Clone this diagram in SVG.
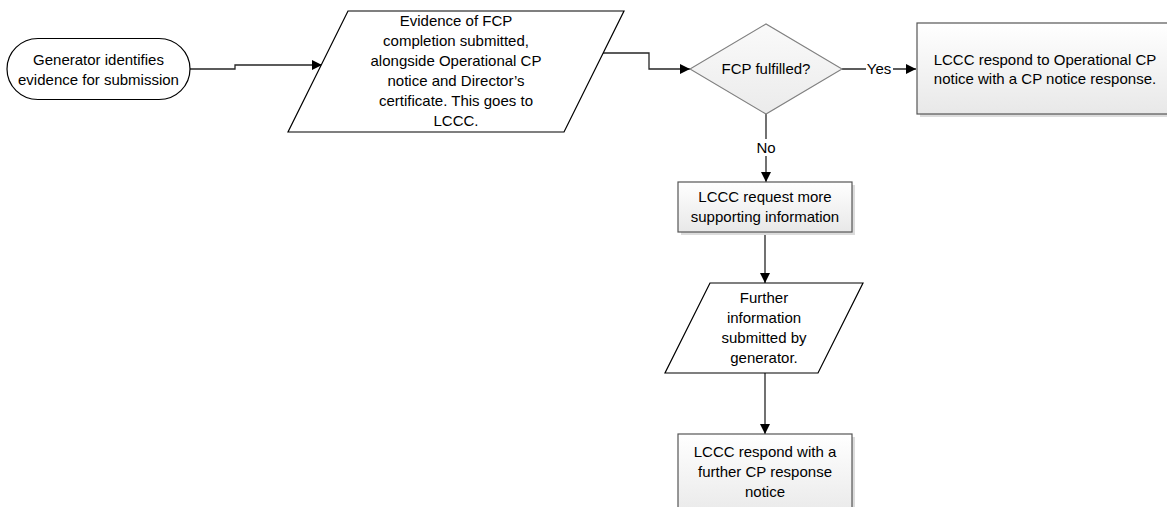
<svg xmlns="http://www.w3.org/2000/svg" width="1167" height="507" viewBox="0 0 1167 507">
<style>
text{font-family:"Liberation Sans",Arial,sans-serif;font-size:15px;fill:#000;text-anchor:middle}
.plain{fill:#fff;stroke:#000;stroke-width:1.2}
.box{fill:url(#boxg);stroke:#555;stroke-width:1.2}
.shadow{fill:#dcdcdc;stroke:none}
.dia{fill:url(#diag);stroke:#808080;stroke-width:1.1}
.conn{fill:none;stroke:#262626;stroke-width:1.3;marker-end:url(#arr)}
.lblbg{fill:#fff;stroke:none}
</style>
<defs>
<linearGradient id="boxg" x1="0" y1="0" x2="0" y2="1">
<stop offset="0" stop-color="#ffffff"/>
<stop offset="1" stop-color="#e8e8e8"/>
</linearGradient>
<linearGradient id="diag" x1="0" y1="0" x2="0" y2="1">
<stop offset="0" stop-color="#fafafa"/>
<stop offset="1" stop-color="#ebebeb"/>
</linearGradient>
<marker id="arr" markerUnits="userSpaceOnUse" markerWidth="11" markerHeight="10" refX="10" refY="5" orient="auto">
<path d="M0,0 L10,5 L0,10 Z" fill="#000"/>
</marker>
</defs>
<rect width="1167" height="507" fill="#fff"/>

<g id="connectors">
<path class="conn" d="M190,69 H235 V65 H322"/>
<path class="conn" d="M603,53 H649 V69 H690"/>
<path class="conn" d="M842,69 H916"/>
<path class="conn" d="M766,114 V182"/>
<path class="conn" d="M765,232 V283"/>
<path class="conn" d="M765,373 V434"/>
<g id="label-yes">
<rect class="lblbg" x="866" y="61" width="27" height="16"/>
<text x="879" y="74">Yes</text>
</g>
<g id="label-no">
<rect class="lblbg" x="755" y="139" width="22" height="17"/>
<text x="766" y="153">No</text>
</g>
</g>

<g id="start">
<rect class="plain" x="7" y="38.5" width="183" height="61" rx="31" ry="30.5"/>
<text x="98.5" y="65">Generator identifies</text>
<text x="98.5" y="85">evidence for submission</text>
</g>

<g id="evidence">
<polygon class="plain" points="348,11 624,11 564,132 288,132"/>
<text x="456" y="26">Evidence of FCP</text>
<text x="456" y="46">completion submitted,</text>
<text x="456" y="66">alongside Operational CP</text>
<text x="456" y="86">notice and Director’s</text>
<text x="456" y="106">certificate. This goes to</text>
<text x="456" y="126">LCCC.</text>
</g>

<g id="decision">
<polygon class="dia" points="690,69 766,24 842,69 766,114"/>
<text x="766" y="74">FCP fulfilled?</text>
</g>

<g id="respond-op">
<rect class="shadow" x="920" y="26" width="256" height="91"/>
<rect class="box" x="917" y="23" width="256" height="91"/>
<text x="1045" y="65">LCCC respond to Operational CP</text>
<text x="1045" y="84">notice with a CP notice response.</text>
</g>

<g id="request-more">
<rect class="shadow" x="681" y="185" width="174" height="50"/>
<rect class="box" x="678" y="182" width="174" height="50"/>
<text x="765" y="202">LCCC request more</text>
<text x="765" y="222">supporting information</text>
</g>

<g id="further-info">
<polygon class="plain" points="710,283 863,283 818,373 665,373"/>
<text x="764" y="303">Further</text>
<text x="764" y="323">information</text>
<text x="764" y="343">submitted by</text>
<text x="764" y="363">generator.</text>
</g>

<g id="respond-further">
<rect class="shadow" x="681" y="437" width="174" height="86"/>
<rect class="box" x="678" y="434" width="174" height="86"/>
<text x="765" y="457">LCCC respond with a</text>
<text x="765" y="477">further CP response</text>
<text x="765" y="497">notice</text>
</g>
</svg>
